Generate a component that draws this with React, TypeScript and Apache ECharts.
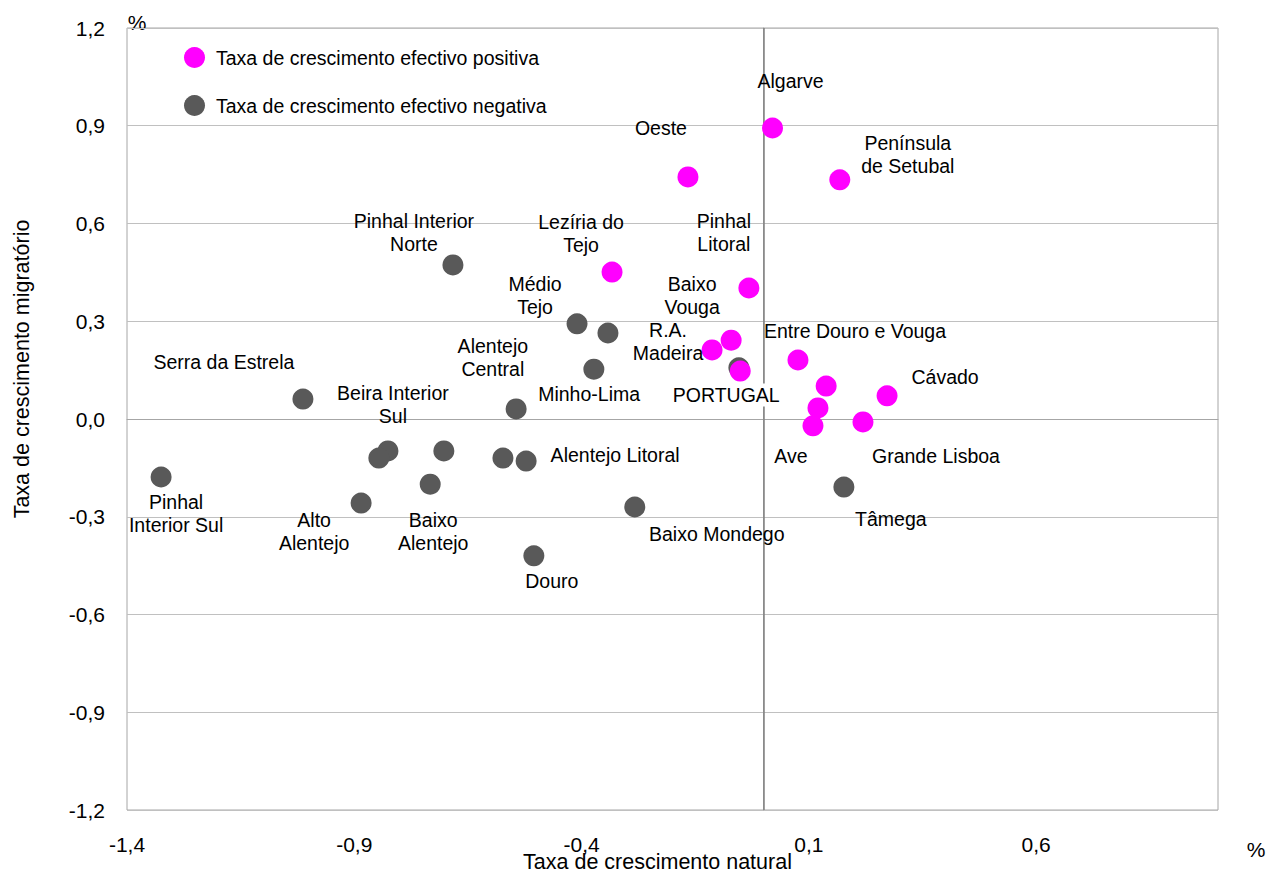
import React, { useEffect, useRef } from "react";
import * as echarts from "echarts";

const POSITIVE_SERIES = "Taxa de crescimento efectivo positiva";
const NEGATIVE_SERIES = "Taxa de crescimento efectivo negativa";

const POSITIVE_NAMES = [
  "Algarve",
  "Oeste",
  "Península\nde Setubal",
  "Lezíria do\nTejo",
  "Pinhal\nLitoral",
  "Baixo\nVouga",
  "R.A.\nMadeira",
  "PORTUGAL",
  "Entre Douro e Vouga",
  "",
  "Cávado",
  "",
  "Ave",
  "Grande Lisboa",
];
const POSITIVE_X = [0.02, -0.166, 0.168, -0.333, -0.032, -0.071, -0.113, -0.051, 0.076, 0.138, 0.272, 0.12, 0.109, 0.219];
const POSITIVE_Y = [0.893, 0.743, 0.734, 0.451, 0.402, 0.242, 0.212, 0.147, 0.181, 0.101, 0.071, 0.034, -0.021, -0.009];

const NEGATIVE_NAMES = [
  "Pinhal Interior\nNorte",
  "Médio\nTejo",
  "",
  "Alentejo\nCentral",
  "Minho-Lima",
  "Serra da Estrela",
  "Beira Interior\nSul",
  "",
  "",
  "Baixo\nAlentejo",
  "Alto\nAlentejo",
  "",
  "Alentejo Litoral",
  "Douro",
  "Baixo Mondego",
  "Tâmega",
  "Pinhal\nInterior Sul",
  "",
];
const NEGATIVE_X = [-0.683, -0.41, -0.342, -0.373, -0.544, -1.013, -0.826, -0.846, -0.703, -0.733, -0.885, -0.573, -0.522, -0.505, -0.283, 0.177, -1.325, -0.054];
const NEGATIVE_Y = [0.473, 0.292, 0.264, 0.153, 0.031, 0.061, -0.098, -0.12, -0.098, -0.2, -0.258, -0.12, -0.129, -0.42, -0.27, -0.209, -0.178, 0.157];

const X_TICKS = [-1.4, -0.9, -0.4, 0.1, 0.6];
const X_TITLE = "Taxa de crescimento natural";
const Y_TITLE = "Taxa de crescimento migratório";
const UNIT = "%";

// label placement (pixel offsets from the marker centre)
const LABEL_OFFSETS: Record<string, [number, number]> = {
  "Algarve": [18, -47],
  "Oeste": [-27, -49],
  "Península\nde Setubal": [68, -25],
  "Lezíria do\nTejo": [-31, -39],
  "Pinhal\nLitoral": [-25, -56],
  "Baixo\nVouga": [-39, -45],
  "R.A.\nMadeira": [-44, -8],
  "PORTUGAL": [-14, 24],
  "Entre Douro e Vouga": [57, -29],
  "Cávado": [58, -19],
  "Ave": [-22, 30],
  "Grande Lisboa": [73, 34],
  "Pinhal Interior\nNorte": [-39, -32],
  "Médio\nTejo": [-42, -28],
  "Alentejo\nCentral": [-101, -12],
  "Minho-Lima": [73, -15],
  "Serra da Estrela": [-79, -37],
  "Beira Interior\nSul": [5, -46],
  "Baixo\nAlentejo": [3, 47],
  "Alto\nAlentejo": [-47, 28],
  "Alentejo Litoral": [89, -6],
  "Douro": [18, 25],
  "Baixo Mondego": [82, 27],
  "Tâmega": [47, 32],
  "Pinhal\nInterior Sul": [15, 37],
};

const FONT = "'Liberation Sans', Arial, sans-serif";
const fmt = (v: number) => v.toFixed(1).replace(".", ",").replace("-0,0", "0,0");

function buildData(names: string[], xs: number[], ys: number[]) {
  return names.map((n, i) => {
    const item: any = {
      name: n,
      value: [xs[i], ys[i]],
      label: { offset: LABEL_OFFSETS[n] || [0, 0] },
    };
    if (n === "PORTUGAL") {
      item.label.backgroundColor = "#ffffff";
      item.label.padding = [0, 2];
    }
    return item;
  });
}

export default function App() {
  const ref = useRef<HTMLDivElement>(null);
  useEffect(() => {
    document.body.style.margin = "0";
    if (!ref.current) return;
    const chart = echarts.init(ref.current, undefined, { renderer: "svg" });
    const labelStyle = {
      show: true,
      position: "inside",
      formatter: "{b}",
      fontFamily: FONT,
      fontSize: 19.5,
      lineHeight: 23,
      color: "#000000",
      opacity: 1,
      textBorderWidth: 0,
      align: "center",
      verticalAlign: "middle",
    };
    chart.setOption({
      animation: false,
      textStyle: { fontFamily: FONT },
      grid: {
        left: 127,
        right: 54,
        top: 28,
        bottom: 65,
        containLabel: false,
        outerBoundsMode: "none",
        show: true,
        borderColor: "#a6a6a6",
        borderWidth: 1,
      },
      legend: {
        data: [POSITIVE_SERIES, NEGATIVE_SERIES],
        orient: "vertical",
        left: 179,
        top: 42,
        itemWidth: 21,
        itemHeight: 21,
        itemGap: 27,
        icon: "circle",
        selectedMode: false,
        textStyle: { fontFamily: FONT, fontSize: 19.5, color: "#000000", padding: [0, 0, 0, 6] },
      },
      xAxis: {
        type: "value",
        min: -1.4,
        max: 1.0,
        name: X_TITLE,
        nameLocation: "middle",
        nameGap: 41,
        nameMoveOverlap: false,
        nameTextStyle: { fontFamily: FONT, fontSize: 21.5, color: "#000000", padding: [0, 30, 0, 0] },
        axisLine: { show: true, lineStyle: { color: "#a6a6a6", width: 1 } },
        axisTick: { show: false },
        splitLine: { show: false },
        axisLabel: {
          customValues: X_TICKS,
          formatter: (v: number) => fmt(v),
          fontFamily: FONT,
          fontSize: 21,
          color: "#000000",
          margin: 24,
        },
      },
      yAxis: {
        type: "value",
        min: -1.2,
        max: 1.2,
        interval: 0.3,
        name: Y_TITLE,
        nameLocation: "middle",
        nameRotate: 90,
        nameGap: 94,
        nameMoveOverlap: false,
        nameTextStyle: { fontFamily: FONT, fontSize: 21.5, color: "#000000", padding: [0, 0, 0, 100] },
        axisLine: { show: true, lineStyle: { color: "#a6a6a6", width: 1 } },
        axisTick: { show: false },
        splitLine: { show: true, lineStyle: { color: "#c0c0c0", width: 1 } },
        axisLabel: {
          formatter: (v: number) => fmt(v),
          fontFamily: FONT,
          fontSize: 21,
          color: "#000000",
          margin: 22,
        },
      },
      graphic: [
        {
          type: "text",
          x: 137,
          y: 22,
          style: { text: UNIT, font: `21px ${FONT}`, fill: "#000000", align: "center", verticalAlign: "middle" },
        },
        {
          type: "text",
          x: 1256,
          y: 849,
          style: { text: UNIT, font: `21px ${FONT}`, fill: "#000000", align: "center", verticalAlign: "middle" },
        },
      ],
      series: [
        {
          name: NEGATIVE_SERIES,
          type: "scatter",
          symbol: "circle",
          symbolSize: 21,
          itemStyle: { color: "#595959", opacity: 1 },
          label: labelStyle,
          emphasis: { disabled: true },
          data: buildData(NEGATIVE_NAMES, NEGATIVE_X, NEGATIVE_Y),
          markLine: {
            silent: true,
            symbol: "none",
            z: 1,
            label: { show: false },
            lineStyle: { color: "#808080", width: 1.5, type: "solid", opacity: 1 },
            data: [{ xAxis: 0 }],
          },
        },
        {
          name: POSITIVE_SERIES,
          type: "scatter",
          symbol: "circle",
          symbolSize: 21,
          itemStyle: { color: "#ff00ff", opacity: 1 },
          label: labelStyle,
          emphasis: { disabled: true },
          data: buildData(POSITIVE_NAMES, POSITIVE_X, POSITIVE_Y),
        },
      ],
    });
    return () => chart.dispose();
  }, []);
  return <div ref={ref} style={{ width: 1272, height: 875 }} />;
}
